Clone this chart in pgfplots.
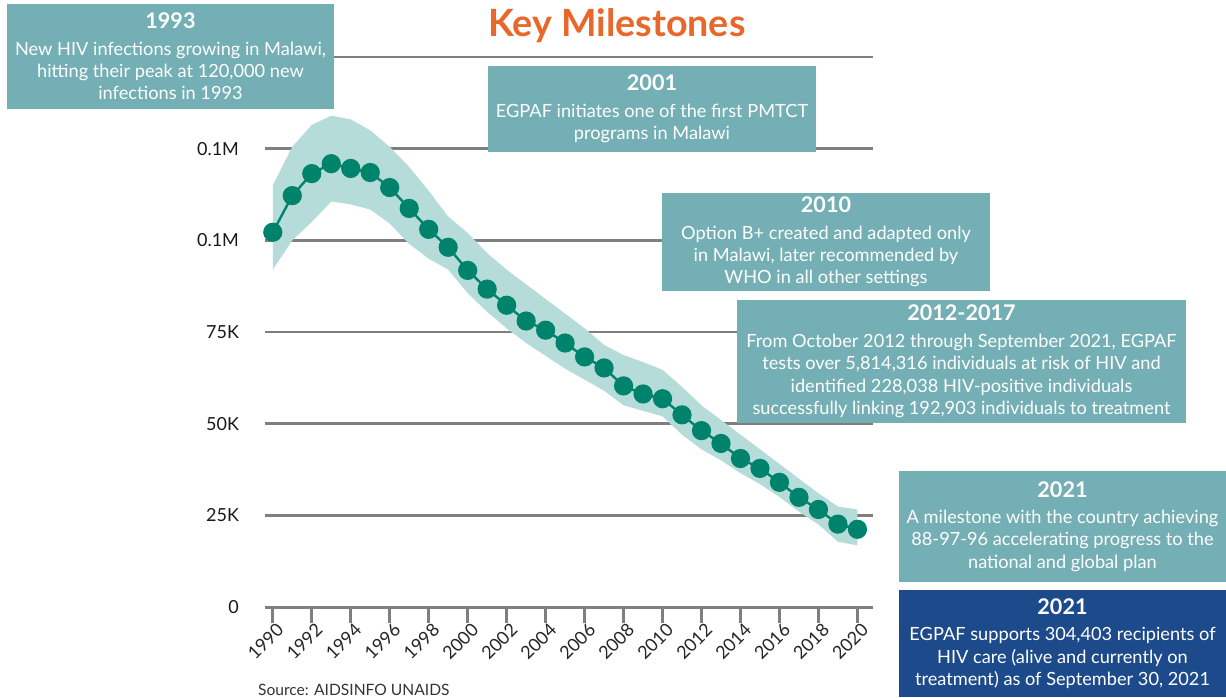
\documentclass[border=0pt]{standalone}
\usepackage{pgfplots}
\pgfplotsset{compat=1.18}
\usepackage{fontspec}
\setmainfont{Lato}
\definecolor{boxteal}{HTML}{74AFB5}
\definecolor{boxblue}{HTML}{1D4A8B}
\definecolor{bandc}{HTML}{B5DCD8}
\definecolor{linec}{HTML}{00836C}
\definecolor{gridc}{HTML}{7F7F7F}
\definecolor{titlec}{HTML}{E8672A}

\begin{document}
\begin{tikzpicture}
\useasboundingbox (0,0) rectangle (613pt,348.5pt);
\begin{axis}[
  at={(132.5pt,45pt)}, anchor=south west,
  scale only axis, width=304pt, height=275pt,
  xmin=1989.6, xmax=2020.8, ymin=0, ymax=150000,
  axis x line*=bottom, axis y line*=left,
  x axis line style={-, gridc, line width=1.5pt},
  y axis line style={draw=none},
  xtick={1990,1992,...,2020},
  ytick={0,25000,50000,75000,100000,125000,150000},
  yticklabels={0,25K,50K,75K,0.1M,0.1M,{}},
  scaled y ticks=false,
  ymajorgrids, grid style={gridc, line width=1.4pt},
  tick align=outside, major tick length=8pt,
  xtick style={gridc, line width=1.5pt},
  ytick style={draw=none},
  xticklabel style={rotate=45, anchor=north east, inner sep=0.5pt, xshift=2pt, font=\fontsize{9}{10}\selectfont, text=black!85, /pgf/number format/1000 sep={}, /pgf/number format/assume math mode=true},
  yticklabel style={anchor=east, xshift=-1.5pt, font=\fontsize{9}{10}\selectfont, text=black!90},
]
% uncertainty band: upper bound forward, lower bound backward
\addplot[fill=bandc, draw=none] coordinates {
(1990,115000) (1991,125500) (1992,131500) (1993,134000) (1994,133000) (1995,130000)
(1996,125500) (1997,120000) (1998,113500) (1999,106500) (2000,102000) (2001,96500)
(2002,92000) (2003,88000) (2004,84000) (2005,80000) (2006,76000) (2007,71500)
(2008,68700) (2009,66800) (2010,64700) (2011,60000) (2012,55000) (2013,51000)
(2014,47000) (2015,43000) (2016,39000) (2017,35000) (2018,31000) (2019,27400) (2020,26600)
(2020,16800) (2019,17800) (2018,22500) (2017,26000) (2016,30000) (2015,33500)
(2014,36500) (2013,40000) (2012,43000) (2011,47000) (2010,52000) (2009,53500)
(2008,55000) (2007,59000) (2006,62000) (2005,65000) (2004,68500) (2003,72000)
(2002,76000) (2001,80500) (2000,85600) (1999,92000) (1998,95000) (1997,99000)
(1996,104600) (1995,108400) (1994,109800) (1993,110600) (1992,105000) (1991,100000) (1990,92000)
} -- cycle;
\addplot[linec, line width=1.2pt, mark=*, mark size=4.2pt, mark options={fill=linec, draw=linec}] coordinates {
(1990,102200) (1991,112200) (1992,118200) (1993,120900) (1994,119600) (1995,118500)
(1996,114400) (1997,108700) (1998,103000) (1999,98100) (2000,91800) (2001,86700)
(2002,82300) (2003,78000) (2004,75500) (2005,72000) (2006,68200) (2007,65200)
(2008,60300) (2009,58100) (2010,56800) (2011,52400) (2012,48100) (2013,44600)
(2014,40500) (2015,37800) (2016,34000) (2017,29900) (2018,26600) (2019,22600) (2020,21200)
};
\end{axis}

\begin{scope}[x=0.5pt, y=-0.5pt, shift={(0pt,348.5pt)}]
\node[text=titlec, font=\fontsize{18.8}{20}\selectfont\bfseries] at (617,26) {Key Milestones};

\tikzset{boxtxt/.style={text=white, align=center, font=\fontsize{9.1}{11.2}\selectfont}}
\newcommand{\hd}[1]{{\fontsize{10.8}{11.2}\selectfont\bfseries #1}}

\fill[boxteal] (7,4) rectangle (334,109);
\node[boxtxt] at (170.5,56.5)
  {\hd{1993}\\[2pt]New HIV infections growing in Malawi,\\hitting their peak at 120,000 new\\infections in 1993};

\fill[boxteal] (488,66) rectangle (816,152);
\node[boxtxt] at (652,109)
  {\hd{2001}\\[2pt]EGPAF initiates one of the first PMTCT\\programs in Malawi};

\fill[boxteal] (662,193) rectangle (990,291);
\node[boxtxt] at (826,242)
  {\hd{2010}\\[2pt]Option B+ created and adapted only\\in Malawi, later recommended by\\WHO in all other settings};

\fill[boxteal] (737,300) rectangle (1186,423);
\node[boxtxt] at (961.5,361.5)
  {\hd{2012-2017}\\[2pt]From October 2012 through September 2021, EGPAF\\tests over 5,814,316 individuals at risk of HIV and\\identified 228,038 HIV-positive individuals\\successfully linking 192,903 individuals to treatment};

\fill[boxteal] (899,471) rectangle (1226,582);
\node[boxtxt] at (1062.5,526.5)
  {\hd{2021}\\[2pt]A milestone with the country achieving\\88-97-96 accelerating progress to the\\national and global plan};

\fill[boxblue] (899,590) rectangle (1226,697);
\node[boxtxt] at (1062.5,643.5)
  {\hd{2021}\\[2pt]EGPAF supports 304,403 recipients of\\HIV care (alive and currently on\\treatment) as of September 30, 2021};

\node[anchor=west, text=black!80, font=\fontsize{7.8}{8}\selectfont] at (251,690) {Source: AIDSINFO UNAIDS};
\end{scope}
\end{tikzpicture}
\end{document}
